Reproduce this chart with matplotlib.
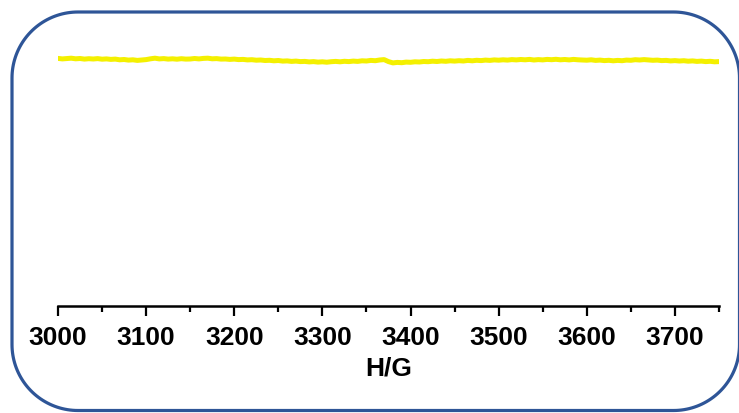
import matplotlib
matplotlib.use('Agg')
import matplotlib.pyplot as plt
from matplotlib.patches import Polygon
from matplotlib.ticker import MultipleLocator
import numpy as np

plt.rcParams['font.family'] = ['Liberation Sans', 'DejaVu Sans']

# field (G) and signal (arb. units)
field = np.arange(3000, 3751, 5)
signal = [247.6, 247.1, 247.4, 247.8, 247.2, 247.5, 246.9, 247.3, 247.0, 247.4,
          246.8, 247.1, 246.6, 246.9, 246.2, 246.5, 245.9, 246.2, 245.6, 246.0,
          246.4, 247.2, 247.8, 247.1, 247.4, 246.9, 247.2, 246.8, 247.3, 246.9,
          247.0, 247.5, 247.1, 247.6, 247.8, 247.2, 247.4, 246.9, 247.0, 246.6,
          246.9, 246.4, 246.6, 246.1, 246.3, 245.8, 246.0, 245.5, 245.7, 245.2,
          245.5, 244.9, 245.1, 244.6, 244.9, 244.4, 244.6, 244.1, 244.4, 243.9,
          244.2, 243.8, 244.3, 244.6, 244.2, 244.7, 244.4, 244.9, 244.6, 245.2,
          245.0, 245.6, 245.3, 246.0, 246.4, 244.4, 243.1, 243.6, 243.3, 243.9,
          243.7, 244.2, 244.0, 244.5, 244.3, 244.8, 244.5, 245.0, 244.7, 245.2,
          244.9, 245.3, 245.0, 245.6, 245.2, 245.7, 245.4, 245.9, 245.6, 246.1,
          245.8, 246.2, 245.9, 246.4, 246.1, 246.5, 246.2, 246.6, 246.0, 246.4,
          246.1, 246.6, 246.3, 246.7, 246.2, 246.5, 246.1, 246.6, 246.2, 246.0,
          245.8, 246.2, 245.6, 245.9, 245.4, 245.7, 245.2, 245.6, 245.3, 245.9,
          245.7, 246.3, 246.0, 246.4, 246.1, 245.7, 245.9, 245.4, 245.6, 245.1,
          245.4, 245.0, 245.3, 244.8, 245.1, 244.6, 244.9, 244.4, 244.7, 244.2,
          244.4]
ticks = [3000, 3100, 3200, 3300, 3400, 3500, 3600, 3700]


def rounded_frame(x0, y0, x1, y1, r, **kw):
    # rounded rectangle with true circular corners
    pts = []
    for cx, cy, a0 in [(x1 - r, y1 - r, 0), (x0 + r, y1 - r, 90),
                       (x0 + r, y0 + r, 180), (x1 - r, y0 + r, 270)]:
        t = np.radians(np.linspace(a0, a0 + 90, 40))
        pts += list(zip(cx + r * np.cos(t), cy + r * np.sin(t)))
    return Polygon(pts, closed=True, **kw)


fig = plt.figure(figsize=(7.39, 4.14), dpi=100, facecolor='w')

# blue frame in pixel units on a background axes
bg = fig.add_axes([0, 0, 1, 1])
bg.set_xlim(0, 739)
bg.set_ylim(0, 414)
bg.axis('off')
bg.add_patch(rounded_frame(12, 2.5, 739.5, 401, 66, fc='none', ec='#2e5597',
                           lw=2.3, clip_on=False))

ax = fig.add_axes([58/739, 1-307/414, 661/739, 270/414])
ax.patch.set_alpha(0)
ax.plot(field, signal, color='#f4f000', lw=3.6, solid_capstyle='round',
        solid_joinstyle='round')
ax.set_xlim(3000, 3750)
ax.set_ylim(0, 270)

for s in ['left', 'top', 'right']:
    ax.spines[s].set_visible(False)
ax.spines['bottom'].set_linewidth(1.8)
ax.set_yticks([])
ax.set_xticks(ticks)
ax.xaxis.set_minor_locator(MultipleLocator(50))
ax.tick_params(axis='x', which='major', length=7.5, width=1.6, pad=6,
               labelsize=19)
ax.tick_params(axis='x', which='minor', length=4.3, width=1.6)
for lab in ax.get_xticklabels():
    lab.set_fontweight('bold')
ax.set_xlabel('H/G', fontsize=19, fontweight='bold', labelpad=5)

fig.savefig('out.png', dpi=100)
